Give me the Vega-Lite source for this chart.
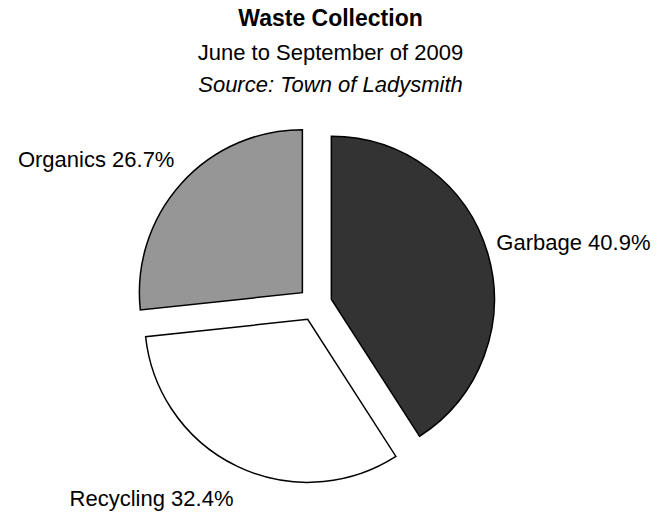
{
  "$schema": "https://vega.github.io/schema/vega-lite/v6.json",
  "padding": {"top": 8, "left": 0, "right": 0, "bottom": 0},
  "background": "white",
  "title": {
    "text": "Waste Collection",
    "subtitle": "June to September of 2009",
    "font": "Liberation Sans",
    "fontSize": 23,
    "fontWeight": "bold",
    "color": "black",
    "subtitleFont": "Liberation Sans",
    "subtitleFontSize": 22,
    "subtitleColor": "black",
    "subtitlePadding": 12,
    "anchor": "middle",
    "offset": 10
  },
  "vconcat": [
    {
      "title": {
        "text": "Source: Town of Ladysmith",
        "font": "Liberation Sans",
        "fontSize": 22,
        "fontStyle": "italic",
        "fontWeight": "normal",
        "color": "black",
        "anchor": "middle",
        "offset": 2
      },
      "width": 661,
      "height": 416,
      "data": {
        "values": [
          {"category": "Garbage", "percent": 40.9},
          {"category": "Recycling", "percent": 32.4},
          {"category": "Organics", "percent": 26.7}
        ]
      },
      "transform": [
        {"window": [{"op": "row_number", "as": "idx"}]},
        {"window": [{"op": "sum", "field": "percent", "as": "cum"}], "frame": [null, 0]},
        {"joinaggregate": [{"op": "sum", "field": "percent", "as": "total"}]},
        {"calculate": "2*PI*(datum.cum - datum.percent/2)/datum.total", "as": "mid"},
        {"calculate": "sin(datum.mid)", "as": "ex"},
        {"calculate": "cos(datum.mid)", "as": "ey"},
        {"calculate": "datum.category + ' ' + format(datum.percent, '.1f') + '%'", "as": "label"}
      ],
      "encoding": {
        "theta": {"field": "percent", "type": "quantitative", "stack": true},
        "order": {"field": "idx", "type": "quantitative"},
        "x": {"field": "ex", "type": "quantitative", "axis": null, "scale": {"domain": [-18.53, 20.35], "nice": false, "zero": false}},
        "y": {"field": "ey", "type": "quantitative", "axis": null, "scale": {"domain": [-12.41, 12.06], "nice": false, "zero": false}}
      },
      "layer": [
        {
          "mark": {"type": "arc", "outerRadius": 163, "stroke": "black", "strokeWidth": 1.5},
          "encoding": {
            "color": {
              "field": "category",
              "type": "nominal",
              "legend": null,
              "scale": {"domain": ["Garbage", "Recycling", "Organics"], "range": ["#333333", "#ffffff", "#969696"]}
            }
          }
        },
        {
          "mark": {
            "type": "text",
            "radius": 172,
            "font": "Liberation Sans",
            "fontSize": 22,
            "color": "black",
            "baseline": "middle",
            "align": {"expr": "datum.ex > 0.3 ? 'left' : (datum.ex < -0.3 ? 'right' : 'center')"},
            "dy": {"expr": "-27*datum.ey"}
          },
          "encoding": {
            "text": {"field": "label", "type": "nominal"}
          }
        }
      ]
    }
  ],
  "config": {
    "view": {"stroke": null},
    "concat": {"spacing": 0}
  }
}
